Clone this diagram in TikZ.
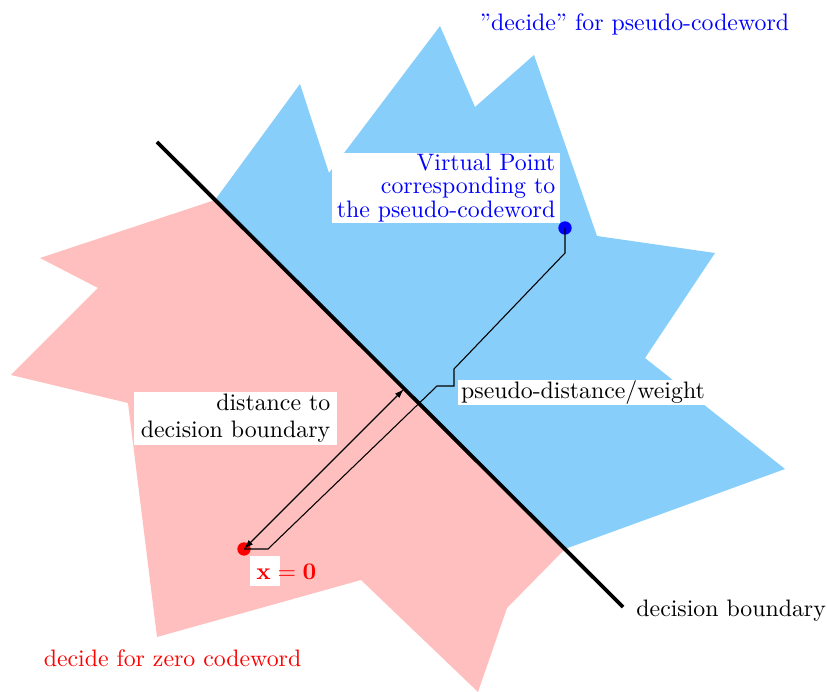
\documentclass[tikz,border=0pt]{standalone}
\usetikzlibrary{arrows.meta}
\definecolor{pinkreg}{RGB}{255,191,191}
\definecolor{bluereg}{RGB}{135,206,250}
\begin{document}
\begin{tikzpicture}[x=0.42pt,y=-0.42pt,
  dot/.style={circle,inner sep=0pt,minimum size=5.6pt},
  wbox/.style={fill=white,align=right},
  conn/.style={draw=black,line width=0.45pt},
  dblarrow/.style={{Latex[length=4pt,width=2.6pt]}-{Latex[length=4pt,width=2.6pt]}}]
\useasboundingbox (0,0) rectangle (827,692);
% regions
\fill[pinkreg] (215,200) -- (40,258) -- (98,288) -- (11,375) -- (128,403) -- (157,637)
  -- (361,580) -- (478,692) -- (507,608) -- (565,549) -- cycle;
\fill[bluereg] (215,200) -- (300,84) -- (329,173) -- (440,26) -- (475,107) -- (534,55)
  -- (597,236) -- (715,253) -- (645,358) -- (785,469) -- (565,549) -- cycle;
% decision boundary
\coordinate (b1) at (157,142);
\coordinate (b2) at (623,607);
\draw[line width=1.6pt] (b1) -- (b2);
\coordinate (foot) at (404,389);
% labels
\node[text=blue,anchor=base] (dp) at (634.5,30.5) {''decide'' for pseudo-codeword};
\node[text=red,anchor=base] (dz) at (172.5,666.5) {decide for zero codeword};
\node[anchor=base west,inner sep=0pt] (db) at (636,616.5) {decision boundary};
\node[wbox,text=blue,inner xsep=2pt,inner ysep=0.6pt,font=\fontsize{10pt}{9.7pt}\selectfont] (vp) at (446,188)
  {Virtual Point\\corresponding to\\the pseudo-codeword};
\node[wbox,inner xsep=1.5pt,inner ysep=0.4pt] (pl) at (583,392.5) {pseudo-distance/weight};
\node[wbox,inner xsep=3pt,inner ysep=1pt,font=\fontsize{10pt}{11.3pt}\selectfont] (dl) at (235.5,418.5)
  {distance to\\decision boundary};
\node[fill=white,minimum width=12.6pt,minimum height=12.6pt,inner sep=0pt] (xb) at (265,571) {};
\node[text=red,anchor=base west,inner sep=0pt] (xl) at (256,579) {$\mathbf{x}=\mathbf{0}$};
% points
\node[dot,fill=red] (rd) at (244,549) {};
\node[dot,fill=blue] (bd) at (565,228) {};
% connectors
\draw[conn,dblarrow] (rd.center) -- (foot);
\draw[conn] (rd.center) -- (268,549) -- (437,386) -- (454,386) -- (454,369) -- (565,253) -- (bd.center);
\end{tikzpicture}
\end{document}
